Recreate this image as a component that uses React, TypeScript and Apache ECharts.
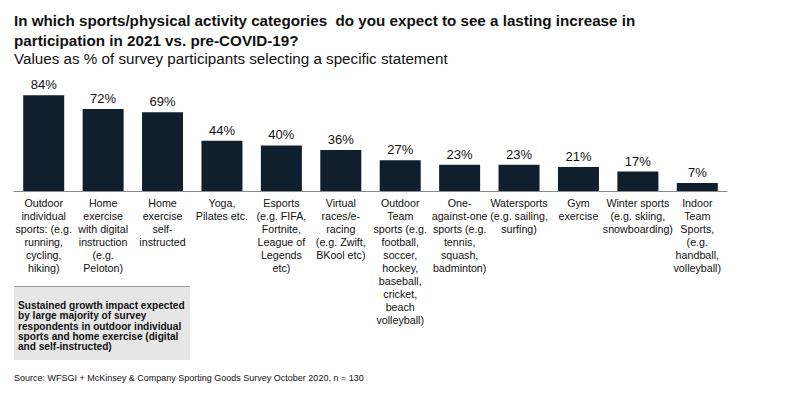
import React, { useEffect, useRef } from "react";
import * as echarts from "echarts";

const categories: string[] = [
  "Outdoor\nindividual\nsports: (e.g.\nrunning,\ncycling,\nhiking)",
  "Home\nexercise\nwith digital\ninstruction\n(e.g.\nPeloton)",
  "Home\nexercise\nself-\ninstructed",
  "Yoga,\nPilates etc.",
  "Esports\n(e.g. FIFA,\nFortnite,\nLeague of\nLegends\netc)",
  "Virtual\nraces/e-\nracing\n(e.g. Zwift,\nBKool etc)",
  "Outdoor\nTeam\nsports (e.g.\nfootball,\nsoccer,\nhockey,\nbaseball,\ncricket,\nbeach\nvolleyball)",
  "One-\nagainst-one\nsports (e.g.\ntennis,\nsquash,\nbadminton)",
  "Watersports\n(e.g. sailing,\nsurfing)",
  "Gym\nexercise",
  "Winter sports\n(e.g. skiing,\nsnowboarding)",
  "Indoor\nTeam\nSports,\n(e.g.\nhandball,\nvolleyball)",
];

const values: number[] = [84, 72, 69, 44, 40, 36, 27, 23, 23, 21, 17, 7];

const titleText =
  "In which sports/physical activity categories  do you expect to see a lasting increase in\nparticipation in 2021 vs. pre-COVID-19?";
const subtitleText = "Values as % of survey participants selecting a specific statement";
const boxText =
  "Sustained growth impact expected\nby large majority of survey\nrespondents in outdoor individual\nsports and home exercise (digital\nand self-instructed)";
const sourceText = "Source: WFSGI + McKinsey & Company Sporting Goods Survey October 2020, n = 130";

const FONT = "'Liberation Sans', Arial, Helvetica, sans-serif";

export default function App() {
  const ref = useRef<HTMLDivElement>(null);
  useEffect(() => {
    if (!ref.current) return;
    const chart = echarts.init(ref.current, undefined, { renderer: "svg" });
    chart.setOption({
      animation: false,
      backgroundColor: "#ffffff",
      textStyle: { fontFamily: FONT },
      grid: { left: 14, right: 73, top: 77, bottom: 206, containLabel: false },
      xAxis: {
        type: "category",
        data: categories,
        axisLine: { show: true, lineStyle: { color: "#8a8a8a", width: 1 } },
        axisTick: { show: false },
        axisLabel: {
          interval: 0,
          color: "#111111",
          fontSize: 10.7,
          lineHeight: 13,
          margin: 5,
          fontFamily: FONT,
          align: "center",
        },
      },
      yAxis: {
        type: "value",
        min: 0,
        max: 100,
        show: false,
        splitLine: { show: false },
      },
      series: [
        {
          type: "bar",
          data: values,
          barWidth: "69%",
          itemStyle: { color: "#0f1f2e" },
          label: {
            show: true,
            position: "top",
            distance: 4,
            formatter: "{c}%",
            color: "#111111",
            fontSize: 13,
            fontFamily: FONT,
          },
        },
      ],
      graphic: [
        {
          type: "text",
          left: 14,
          top: 10,
          style: {
            text: titleText,
            font: `bold 15.2px ${FONT}`,
            fill: "#111111",
            lineHeight: 20.5,
          },
        },
        {
          type: "text",
          left: 14,
          top: 51,
          style: {
            text: subtitleText,
            font: `15.2px ${FONT}`,
            fill: "#111111",
          },
        },
        {
          type: "rect",
          shape: { x: 14, y: 286, width: 176, height: 74 },
          style: { fill: "#e6e6e6" },
        },
        {
          type: "line",
          shape: { x1: 14, y1: 286.5, x2: 190, y2: 286.5 },
          style: { stroke: "#9a9a9a", lineWidth: 1 },
        },
        {
          type: "text",
          left: 18,
          top: 300,
          style: {
            text: boxText,
            font: `bold 10.1px ${FONT}`,
            fill: "#111111",
            lineHeight: 10.4,
          },
        },
        {
          type: "text",
          left: 14,
          top: 373,
          style: {
            text: sourceText,
            font: `9px ${FONT}`,
            fill: "#111111",
          },
        },
      ],
    });
    return () => chart.dispose();
  }, []);
  return (
    <div
      ref={ref}
      style={{ position: "fixed", left: 0, top: 0, width: 800, height: 397 }}
    />
  );
}
